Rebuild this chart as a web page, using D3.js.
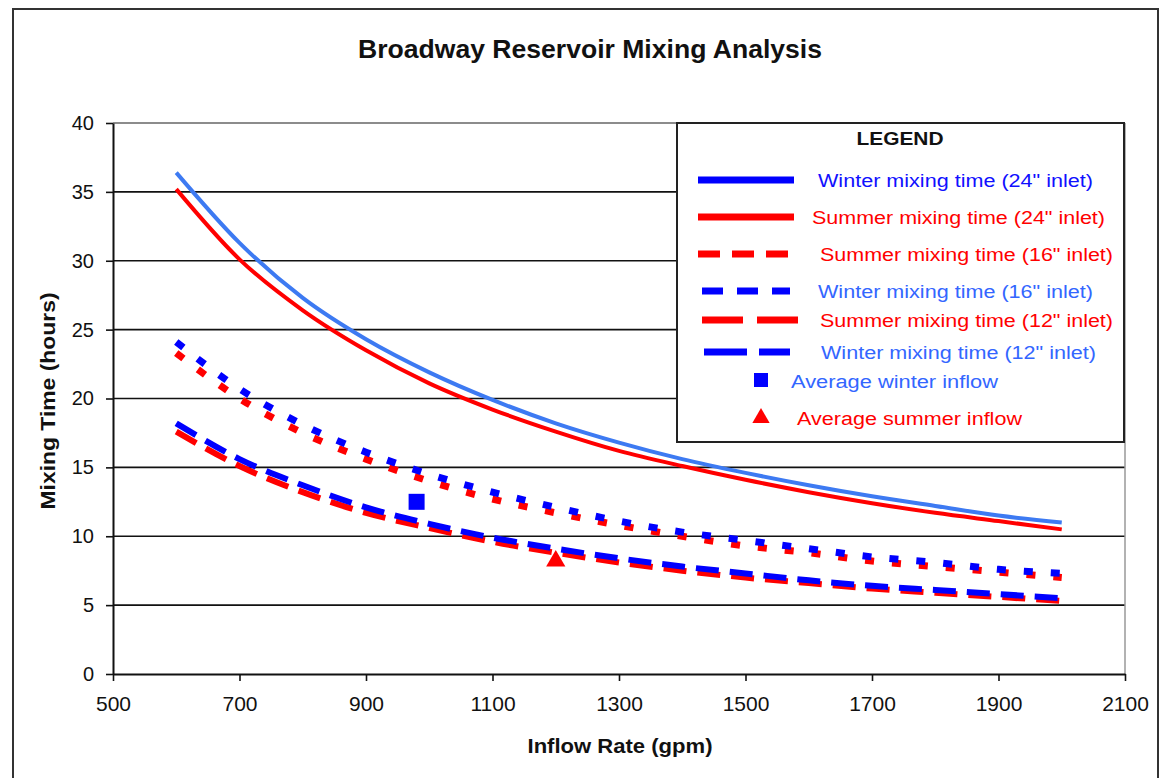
<!DOCTYPE html>
<html>
<head>
<meta charset="utf-8">
<script src="https://cdn.jsdelivr.net/npm/d3@7"></script>
<style>
  html, body { margin: 0; padding: 0; background: #fff; }
  svg { display: block; font-family: "Liberation Sans", Arial, sans-serif; }
</style>
</head>
<body>
<div id="wrapper"></div>
<script>
// 1. Data

const inflow = [600, 700, 800, 900, 1000, 1100, 1200, 1300, 1400, 1500, 1600, 1700, 1800, 1900, 2000]

const winter24 = [36.4, 31.3, 27.3, 24.3, 21.9, 19.9, 18.2, 16.8, 15.6, 14.6, 13.7, 12.9, 12.2, 11.5, 11.0]
const summer24 = [35.2, 30.1, 26.4, 23.5, 21.1, 19.2, 17.6, 16.2, 15.1, 14.1, 13.2, 12.4, 11.7, 11.1, 10.5]
const summer16 = [23.3, 20.0, 17.5, 15.6, 14.0, 12.7, 11.7, 10.8, 10.0, 9.3, 8.8, 8.2, 7.8, 7.4, 7.0]
const winter16 = [24.1, 20.7, 18.1, 16.1, 14.5, 13.2, 12.1, 11.1, 10.3, 9.7, 9.1, 8.5, 8.1, 7.6, 7.3]
const summer12 = [17.6, 15.1, 13.2, 11.7, 10.6, 9.6, 8.8, 8.1, 7.5, 7.0, 6.6, 6.2, 5.9, 5.6, 5.3]
const winter12 = [18.2, 15.6, 13.7, 12.1, 10.9, 9.9, 9.1, 8.4, 7.8, 7.3, 6.8, 6.4, 6.1, 5.8, 5.5]

const seriesNames = [
    "Winter mixing time (24\" inlet)",
    "Summer mixing time (24\" inlet)",
    "Summer mixing time (16\" inlet)",
    "Winter mixing time (16\" inlet)",
    "Summer mixing time (12\" inlet)",
    "Winter mixing time (12\" inlet)",
]
const seriesValues = [winter24, summer24, summer16, winter16, summer12, winter12]

const avgWinterInflow = [980, 12.5]
const avgSummerInflow = [1200, 8.2]
const markerNames = ["Average winter inflow", "Average summer inflow"]

const xTicks = [500, 700, 900, 1100, 1300, 1500, 1700, 1900, 2100]
const yTicks = [0, 5, 10, 15, 20, 25, 30, 35, 40]

// styles per series (same order as seriesNames)
const seriesStyles = [
    {color: "#3d7af2", width: 4, dash: null, legendColor: "#0000ff", textColor: "#1010ff", legendDash: null, textX: 818, textW: 275},
    {color: "#ff0000", width: 4, dash: null, legendColor: "#ff0000", textColor: "#ff0000", legendDash: null, textX: 812, textW: 293},
    {color: "#ff0000", width: 7, dash: "9,18", legendColor: "#ff0000", textColor: "#ff0000", legendDash: "22,12", textX: 820, textW: 293},
    {color: "#0000ff", width: 7, dash: "9,18", legendColor: "#0000ff", textColor: "#3366ff", legendDash: "21,14", textX: 818, textW: 275},
    {color: "#ff0000", width: 6, dash: "23,11", legendColor: "#ff0000", textColor: "#ff0000", legendDash: "41,14", textX: 820, textW: 293},
    {color: "#0000ff", width: 6, dash: "23,11", legendColor: "#0000ff", textColor: "#3366ff", legendDash: "43,12", textX: 821, textW: 275},
]
// draw order: 24" lines first, winter dashes over summer dashes
const drawOrder = [1, 0, 2, 3, 4, 5]

// 2. Dimensions

const width = 1168
const height = 778
const plot = {left: 113, right: 1125, top: 123, bottom: 674}

const svg = d3.select("#wrapper").append("svg")
    .attr("width", width)
    .attr("height", height)

// outer frame
svg.append("rect")
    .attr("x", 13).attr("y", 9)
    .attr("width", 1145).attr("height", 800)
    .attr("fill", "#fff")
    .attr("stroke", "#333")
    .attr("stroke-width", 2)

// 3. Scales

const xScale = d3.scaleLinear()
    .domain([500, 2100])
    .range([plot.left, plot.right])

const yScale = d3.scaleLinear()
    .domain([0, 40])
    .range([plot.bottom, plot.top])

// 4. Grid and plot border

const grid = svg.append("g")
grid.selectAll("line")
    .data(yTicks.filter(d => d > 0))
    .join("line")
    .attr("x1", plot.left).attr("x2", plot.right)
    .attr("y1", d => yScale(d)).attr("y2", d => yScale(d))
    .attr("stroke", d => d === 40 ? "#666" : "#111")
    .attr("stroke-width", 1.6)

svg.append("line")
    .attr("x1", plot.right).attr("x2", plot.right)
    .attr("y1", plot.top).attr("y2", plot.bottom)
    .attr("stroke", "#999")
    .attr("stroke-width", 1.5)

// 5. Axes

const xAxis = svg.append("g")
    .attr("transform", `translate(0,${plot.bottom})`)
    .call(d3.axisBottom(xScale).tickValues(xTicks).tickFormat(d3.format("d"))
        .tickSize(7).tickPadding(15).tickSizeOuter(0))
xAxis.select(".domain").attr("stroke", "#111").attr("stroke-width", 2)
xAxis.selectAll(".tick line").attr("stroke", "#111").attr("stroke-width", 1.6)
xAxis.selectAll(".tick text")
    .attr("font-size", 21)
    .attr("font-family", "Liberation Sans, Arial, sans-serif")
    .attr("fill", "#111")

const yAxis = svg.append("g")
    .attr("transform", `translate(${plot.left},0)`)
    .call(d3.axisLeft(yScale).tickValues(yTicks).tickSize(7).tickPadding(12).tickSizeOuter(0))
yAxis.select(".domain").attr("stroke", "#111").attr("stroke-width", 2)
yAxis.selectAll(".tick line").attr("stroke", "#111").attr("stroke-width", 1.6)
yAxis.selectAll(".tick text")
    .attr("font-size", 20)
    .attr("font-family", "Liberation Sans, Arial, sans-serif")
    .attr("fill", "#111")

// 6. Lines

const lineGenerator = d3.line()
    .x((d, i) => xScale(inflow[i]))
    .y(d => yScale(d))
    .curve(d3.curveMonotoneX)

svg.append("g")
    .selectAll("path")
    .data(drawOrder)
    .join("path")
    .attr("d", i => lineGenerator(seriesValues[i]))
    .attr("fill", "none")
    .attr("stroke", i => seriesStyles[i].color)
    .attr("stroke-width", i => seriesStyles[i].width)
    .attr("stroke-dasharray", i => seriesStyles[i].dash)
    .attr("stroke-linejoin", "round")

// markers
svg.append("rect")
    .attr("x", xScale(avgWinterInflow[0]) - 8)
    .attr("y", yScale(avgWinterInflow[1]) - 8)
    .attr("width", 16).attr("height", 16)
    .attr("fill", "#0000ff")

svg.append("path")
    .attr("transform", `translate(${xScale(avgSummerInflow[0])},${yScale(avgSummerInflow[1])})`)
    .attr("d", d3.symbol(d3.symbolTriangle, 160))
    .attr("fill", "#ff0000")

// 7. Titles

svg.append("text")
    .attr("x", 590).attr("y", 58)
    .attr("text-anchor", "middle")
    .attr("font-size", 25)
    .attr("font-weight", "bold")
    .attr("fill", "#111")
    .attr("textLength", 464)
    .attr("lengthAdjust", "spacingAndGlyphs")
    .text("Broadway Reservoir Mixing Analysis")

svg.append("text")
    .attr("x", 620).attr("y", 753)
    .attr("text-anchor", "middle")
    .attr("font-size", 20)
    .attr("font-weight", "bold")
    .attr("fill", "#111")
    .attr("textLength", 185)
    .attr("lengthAdjust", "spacingAndGlyphs")
    .text("Inflow Rate (gpm)")

svg.append("text")
    .attr("transform", "translate(55,401) rotate(-90)")
    .attr("text-anchor", "middle")
    .attr("font-size", 20)
    .attr("font-weight", "bold")
    .attr("fill", "#111")
    .attr("textLength", 217)
    .attr("lengthAdjust", "spacingAndGlyphs")
    .text("Mixing Time (hours)")

// 8. Legend

const legend = svg.append("g")

legend.append("rect")
    .attr("x", 677).attr("y", 123)
    .attr("width", 447).attr("height", 319)
    .attr("fill", "#fff")
    .attr("stroke", "#222")
    .attr("stroke-width", 2)

legend.append("text")
    .attr("x", 900).attr("y", 145)
    .attr("text-anchor", "middle")
    .attr("font-size", 18)
    .attr("font-weight", "bold")
    .attr("fill", "#111")
    .attr("textLength", 87)
    .attr("lengthAdjust", "spacingAndGlyphs")
    .text("LEGEND")

const legendRowsY = [180, 217, 254, 291, 320, 352]
const legendSwatch = [[698, 794], [698, 794], [698, 788], [702, 790], [702, 798], [704, 790]]

const rows = legend.selectAll(".legend-row")
    .data(seriesNames)
    .join("g")
    .attr("class", "legend-row")
    .attr("transform", (d, i) => `translate(0,${legendRowsY[i]})`)

rows.append("line")
    .attr("x1", (d, i) => legendSwatch[i][0])
    .attr("x2", (d, i) => legendSwatch[i][1])
    .attr("stroke", (d, i) => seriesStyles[i].legendColor)
    .attr("stroke-width", 7)
    .attr("stroke-dasharray", (d, i) => seriesStyles[i].legendDash)

rows.append("text")
    .attr("x", (d, i) => seriesStyles[i].textX)
    .attr("y", 7)
    .attr("font-size", 18)
    .attr("fill", (d, i) => seriesStyles[i].textColor)
    .attr("textLength", (d, i) => seriesStyles[i].textW)
    .attr("lengthAdjust", "spacingAndGlyphs")
    .text(d => d)

legend.append("rect")
    .attr("x", 754).attr("y", 373)
    .attr("width", 14).attr("height", 14)
    .attr("fill", "#0000ff")
legend.append("text")
    .attr("x", 791).attr("y", 388)
    .attr("font-size", 18)
    .attr("fill", "#3366ff")
    .attr("textLength", 207)
    .attr("lengthAdjust", "spacingAndGlyphs")
    .text(markerNames[0])

legend.append("path")
    .attr("transform", "translate(761,418)")
    .attr("d", d3.symbol(d3.symbolTriangle, 130))
    .attr("fill", "#ff0000")
legend.append("text")
    .attr("x", 797).attr("y", 425)
    .attr("font-size", 18)
    .attr("fill", "#ff0000")
    .attr("textLength", 225)
    .attr("lengthAdjust", "spacingAndGlyphs")
    .text(markerNames[1])
</script>
</body>
</html>
